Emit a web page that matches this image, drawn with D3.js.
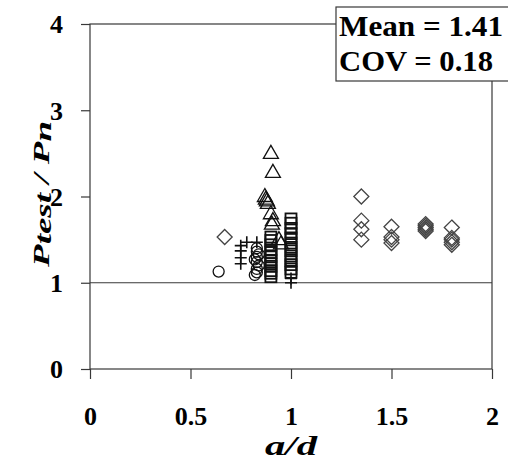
<!DOCTYPE html>
<html>
<head>
<meta charset="utf-8">
<script src="https://cdn.jsdelivr.net/npm/d3@7"></script>
<style>
  body { margin: 0; background: #fff; }
  text { font-family: "Liberation Serif", "Tinos", "DejaVu Serif", serif; font-weight: bold; fill: #000; }
</style>
</head>
<body>
<div id="chart"></div>
<script>
// a/d vs Ptest/Pn
const diamondX = [0.67, 1.35, 1.35, 1.35, 1.35, 1.5, 1.5, 1.5, 1.5, 1.67, 1.67, 1.67, 1.67, 1.67, 1.8, 1.8, 1.8, 1.8, 1.8]
const diamondY = [1.53, 2.0, 1.72, 1.62, 1.5, 1.65, 1.53, 1.5, 1.46, 1.68, 1.66, 1.64, 1.62, 1.6, 1.64, 1.52, 1.5, 1.47, 1.44]

const circleX = [0.64, 0.83, 0.83, 0.84, 0.83, 0.82, 0.83, 0.84, 0.83, 0.83, 0.82]
const circleY = [1.13, 1.40, 1.36, 1.33, 1.30, 1.27, 1.24, 1.20, 1.16, 1.12, 1.09]

const crossX = [0.75, 0.75, 0.75, 0.75, 0.78, 0.83, 1.0, 1.0]
const crossY = [1.43, 1.37, 1.29, 1.22, 1.47, 1.47, 1.0, 1.05]

const triX = [0.9, 0.91, 0.87, 0.875, 0.88, 0.885, 0.9, 0.91, 0.905, 0.94, 0.95]
const triY = [2.5, 2.28, 2.0, 1.97, 1.95, 1.92, 1.8, 1.72, 1.68, 1.5, 1.45]

const squareX = [0.9, 0.9, 0.9, 0.9, 0.9, 0.9, 0.9, 0.9, 0.9, 0.9, 0.9, 0.9,
  1.0, 1.0, 1.0, 1.0, 1.0, 1.0, 1.0, 1.0, 1.0, 1.0, 1.0, 1.0, 1.0]
const squareY = [1.53, 1.49, 1.44, 1.38, 1.35, 1.30, 1.26, 1.22, 1.19, 1.14, 1.11, 1.07,
  1.74, 1.69, 1.63, 1.57, 1.52, 1.46, 1.41, 1.37, 1.31, 1.26, 1.21, 1.16, 1.12]

const xTicks = [0, 0.5, 1, 1.5, 2]
const xTickLabels = ["0", "0.5", "1", "1.5", "2"]
const yTicks = [0, 1, 2, 3, 4]
const statLines = ["Mean = 1.41", "COV = 0.18"]

const width = 508, height = 468
const plotL = 90, plotR = 492, plotT = 24, plotB = 369
const serif = '"Liberation Serif", "Tinos", "DejaVu Serif", serif'

const svg = d3.select("#chart").append("svg")
  .attr("width", width)
  .attr("height", height)

const x = d3.scaleLinear().domain([0, 2]).range([plotL, plotR])
const y = d3.scaleLinear().domain([0, 4]).range([plotB, plotT])

const ink = "#383838"

// frame
svg.append("rect")
  .attr("x", plotL).attr("y", plotT)
  .attr("width", plotR - plotL).attr("height", plotB - plotT)
  .attr("fill", "none").attr("stroke", ink).attr("stroke-width", 1.2)

// axes
svg.append("g")
  .attr("transform", `translate(0,${plotB})`)
  .call(d3.axisBottom(x).tickValues(xTicks).tickSize(10).tickFormat((d, i) => xTickLabels[i]))
  .call(g => g.select(".domain").remove())
  .call(g => g.selectAll("line").attr("stroke", ink).attr("stroke-width", 1.2))
  .call(g => g.selectAll("text").attr("font-size", 26).attr("dy", null).attr("y", 56))

svg.append("g")
  .attr("transform", `translate(${plotL},0)`)
  .call(d3.axisLeft(y).tickValues(yTicks).tickSize(9).tickFormat(d3.format("d")))
  .call(g => g.select(".domain").remove())
  .call(g => g.selectAll("line").attr("stroke", ink).attr("stroke-width", 1.2))
  .call(g => g.selectAll("text").attr("font-size", 26).attr("x", -27).attr("dy", "0.34em"))

svg.selectAll("g").attr("font-family", serif)

// reference line at 1
svg.append("line")
  .attr("x1", plotL).attr("x2", plotR)
  .attr("y1", y(1)).attr("y2", y(1))
  .attr("stroke", ink).attr("stroke-width", 1.2)

// markers
const marks = svg.append("g").attr("fill", "none").attr("stroke", "#111").attr("stroke-width", 1.3)

const diamondPath = (cx, cy) => `M${cx},${cy - 7.5}L${cx + 7.5},${cy}L${cx},${cy + 7.5}L${cx - 7.5},${cy}Z`
const triPath = (cx, cy) => `M${cx},${cy - 8}L${cx + 7.5},${cy + 5}L${cx - 7.5},${cy + 5}Z`
const crossPath = (cx, cy) => `M${cx - 6},${cy}H${cx + 6}M${cx},${cy - 6}V${cy + 6}`

marks.selectAll(".sq")
  .data(squareX.map((v, i) => [v, squareY[i]]))
  .enter().append("rect")
  .attr("x", d => x(d[0]) - 5.5)
  .attr("y", d => y(d[1]) - 5.5)
  .attr("width", 11).attr("height", 11)
  .attr("stroke-width", 1.8)

marks.selectAll(".ci")
  .data(circleX.map((v, i) => [v, circleY[i]]))
  .enter().append("circle")
  .attr("cx", d => x(d[0]))
  .attr("cy", d => y(d[1]))
  .attr("r", 5.5)

marks.selectAll(".tr")
  .data(triX.map((v, i) => [v, triY[i]]))
  .enter().append("path")
  .attr("d", d => triPath(x(d[0]), y(d[1])))

marks.selectAll(".di")
  .data(diamondX.map((v, i) => [v, diamondY[i]]))
  .enter().append("path")
  .attr("d", d => diamondPath(x(d[0]), y(d[1])))
  .attr("stroke", "#444")

marks.selectAll(".cr")
  .data(crossX.map((v, i) => [v, crossY[i]]))
  .enter().append("path")
  .attr("d", d => crossPath(x(d[0]), y(d[1])))
  .attr("stroke-width", 1.6)

// axis titles
svg.append("text")
  .attr("x", 291).attr("y", 455)
  .attr("text-anchor", "middle")
  .attr("font-family", serif)
  .attr("font-size", 28)
  .attr("font-style", "italic")
  .attr("textLength", 52)
  .attr("lengthAdjust", "spacingAndGlyphs")
  .text("a/d")

const yt = svg.append("text")
  .attr("transform", "translate(49,194) rotate(-90)")
  .attr("text-anchor", "middle")
  .attr("font-family", serif)
  .attr("font-style", "italic")
  .attr("font-size", 23)
  .attr("textLength", 146)
  .attr("lengthAdjust", "spacingAndGlyphs")
yt.append("tspan").text("P")
yt.append("tspan").attr("dy", 2).text("test")
yt.append("tspan").attr("dy", -2).text(" / P")
yt.append("tspan").attr("dy", 2).text("n")

// stats box
svg.append("rect")
  .attr("x", 336).attr("y", 7)
  .attr("width", 190).attr("height", 74)
  .attr("fill", "#fff").attr("stroke", ink).attr("stroke-width", 1.2)

const statLen = [164, 154]
svg.selectAll(".stat")
  .data(statLines)
  .enter().append("text")
  .attr("x", 339)
  .attr("y", (d, i) => 36 + i * 35)
  .attr("font-family", serif)
  .attr("font-size", 29)
  .attr("textLength", (d, i) => statLen[i])
  .attr("lengthAdjust", "spacingAndGlyphs")
  .text(d => d)
</script>
</body>
</html>
